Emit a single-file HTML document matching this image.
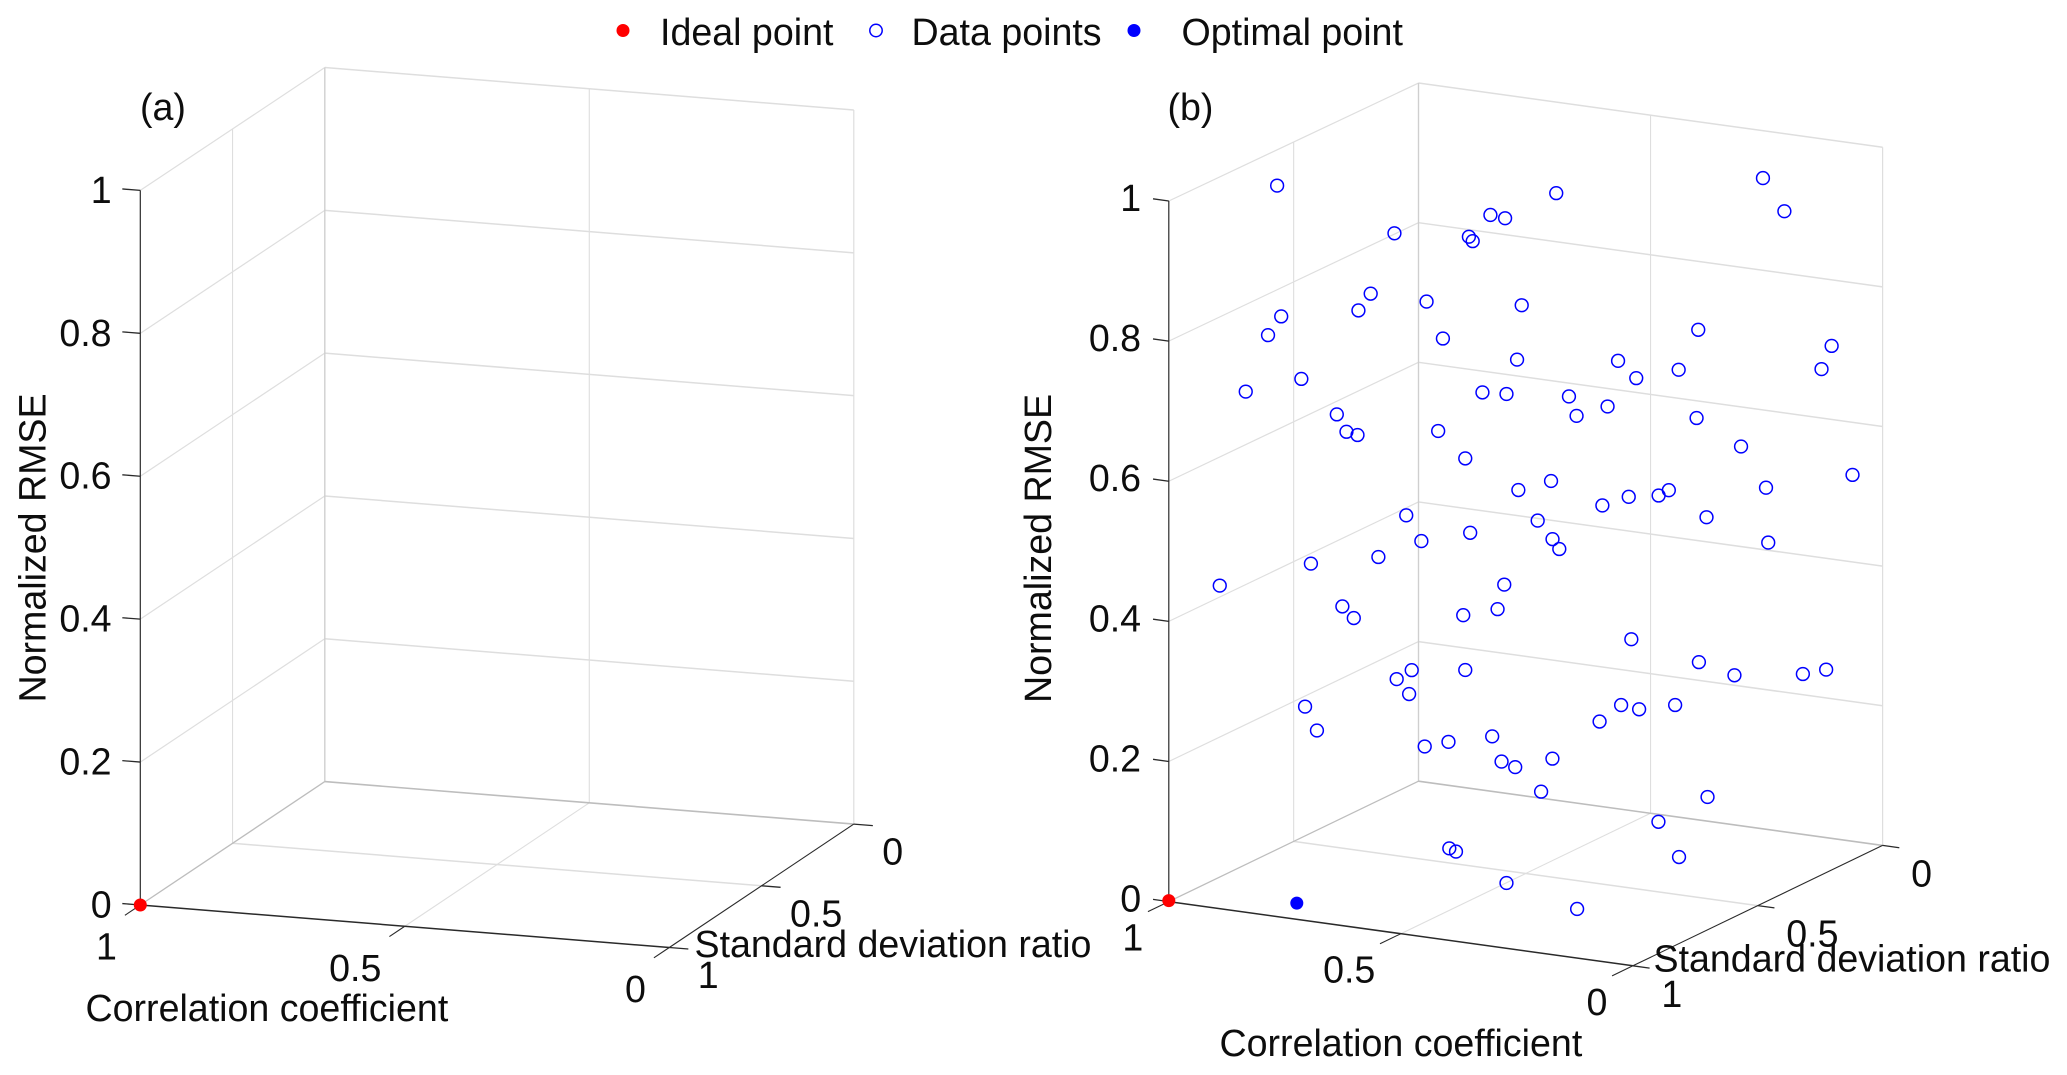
<!DOCTYPE html>
<html>
<head>
<meta charset="utf-8">
<title>3D scatter: normalized RMSE vs correlation and SD ratio</title>
<style>
html,body{margin:0;padding:0;background:#fff;}
svg{display:block;}
text{font-family:"Liberation Sans",Arial,sans-serif;font-size:37.6px;fill:#0d0d0d;}
</style>
</head>
<body>
<svg id="figure" xmlns="http://www.w3.org/2000/svg" width="2067" height="1075" viewBox="0 0 2067 1075">
  <rect x="0" y="0" width="2067" height="1075" fill="#fff"/>
  <g id="panel-a"></g>
  <g id="panel-b"></g>
  <g>
    <g>
      <circle cx="623" cy="30.5" r="6.5" fill="#f00"/>
      <text x="660" y="45">Ideal point</text>
    </g>
    <g>
      <circle cx="876" cy="30.5" r="6.2" fill="none" stroke="#00f" stroke-width="1.5"/>
      <text x="911.5" y="45">Data points</text>
    </g>
    <g>
      <circle cx="1134" cy="30.5" r="6.5" fill="#00f"/>
      <text x="1181.5" y="45">Optimal point</text>
    </g>
  </g>
</svg>
<script>
// Tick values and labels
const rmseTicks = [0, 0.2, 0.4, 0.6, 0.8, 1];
const rmseTickLabels = ["0", "0.2", "0.4", "0.6", "0.8", "1"];
const corrTicks = [1, 0.5, 0];
const corrTickLabels = ["1", "0.5", "0"];
const sdTicks = [0, 0.5, 1];
const sdTickLabels = ["0", "0.5", "1"];

// Reference points: [correlation, sd ratio, normalized RMSE]
const idealPoint = [1, 1, 0];
const optimalPoint = [0.778, 0.9, 0.001];

// Panel (b) data series
const corrValues = [
  .928,.488,.204,.104,.576,.652,.729,.461,.668,.834,
  .606,.670,.699,.973,.840,.786,.182,.056,.411,.301,
  .278,.024,.208,.822,.888,.647,.380,.622,.216,.907,
  .498,.078,.940,.701,.850,.036,.415,.011,.553,.462,
  .036,.353,.106,.278,.550,.218,.596,.528,.781,.671,
  .227,.085,.320,.909,.656,.944,.600,.453,.796,.895,
  .709,.380,.073,.104,.118,.014,.638,.778,.415,.805,
  .814,.178,.402,.148,.556,.896,.626,.505,.879,.552,
  .415,.550,.413,.162,.214,.557,.435,.062,.380,.174
];
const sdRatioValues = [
  .7,.4,.1,.2,.5,.3,.6,.8,.4,.5,
  .7,.2,.8,.6,.9,.3,.4,.1,.7,.5,
  .3,.2,.6,.8,.9,.4,.8,.1,.7,.5,
  .3,.6,.4,.8,.2,.5,.9,.1,.3,.6,
  .4,.2,.7,.5,.1,.3,.8,.4,.2,.6,
  .9,.3,.7,.6,.8,.9,.4,.7,.2,.5,
  .8,.3,.6,.4,.1,.2,.7,.5,.9,.4,
  .8,.5,.3,.7,.1,.6,.4,.8,.2,.5,
  .7,.3,.6,.4,.5,.7,.9,.7,.8,.9
];
const rmseValues = [
  .977,.955,.951,.930,.933,.887,.910,.964,.870,.797,
  .841,.744,.837,.769,.806,.703,.788,.725,.776,.750,
  .705,.712,.751,.728,.721,.656,.747,.601,.727,.618,
  .619,.706,.573,.659,.548,.652,.669,.545,.521,.568,
  .576,.509,.610,.558,.452,.500,.554,.484,.409,.476,
  .571,.476,.514,.422,.489,.439,.386,.416,.290,.345,
  .397,.311,.358,.302,.251,.284,.312,.252,.367,.211,
  .261,.270,.215,.301,.143,.185,.167,.239,.095,.155,
  .194,.125,.142,.123,.100,.065,.106,.098,.049,.048
];

const SVGNS = "http://www.w3.org/2000/svg";

function mk(tag, attrs, parent) {
  const el = document.createElementNS(SVGNS, tag);
  for (const k in attrs) el.setAttribute(k, attrs[k]);
  parent.appendChild(el);
  return el;
}

// Axis projection: correlation runs 1→0, sd ratio runs 1→0, RMSE runs 0→1
function makeAxes(geo) {
  return function project(c, s, z) {
    const u = 1 - c, v = 1 - s;
    return {
      x: geo.ox + u * geo.ux[0] + v * geo.uy[0],
      y: geo.oy + u * geo.ux[1] + v * geo.uy[1] - z * geo.uz
    };
  };
}

function seg(project, a, b, stroke, width, parent) {
  const p = project(a[0], a[1], a[2]);
  const q = project(b[0], b[1], b[2]);
  return mk("line", {x1: p.x, y1: p.y, x2: q.x, y2: q.y, stroke: stroke, "stroke-width": width}, parent);
}

function drawPanel(parent, geo) {
  const project = makeAxes(geo);
  const GRID = "#dedede", EDGE = "#bdbdbd", AXIS = "#2a2a2a";
  const k = geo.backWall;

  // Wall horizontal grid lines
  rmseTicks.forEach(function (z) {
    if (z === 0) return;
    const l1 = seg(project, [1, 1, z], [1, 0, z * k], GRID, 1.2, parent);
    
    
    const l2 = seg(project, [1, 0, z * k], [0, 0, z * k], GRID, 1.5, parent);
    
    
  });
  // Wall vertical grid lines
  const v1 = seg(project, [1, 0.5, 0], [1, 0.5, (1 + k) / 2], GRID, 1.1, parent);
  
  
  const v2 = seg(project, [0.5, 0, 0], [0.5, 0, k], GRID, 1.1, parent);
  
  
  const v3 = seg(project, [1, 0, 0], [1, 0, k], "#cfcfcf", 1.4, parent);
  
  
  const v4 = seg(project, [0, 0, 0], [0, 0, k], GRID, 1.2, parent);
  
  
  // Floor grid lines
  const f1 = seg(project, [1, 0.5, 0], [0, 0.5, 0], GRID, 1.5, parent);
  
  
  const f2 = seg(project, [0.5, 1, 0], [0.5, 0, 0], GRID, 1.1, parent);
  
  
  const f3 = seg(project, [1, 1, 0], [1, 0, 0], EDGE, 1.3, parent);
  
  
  const f4 = seg(project, [1, 0, 0], [0, 0, 0], EDGE, 1.6, parent);
  
  

  // Axis lines
  const az = seg(project, [1, 1, 0], [1, 1, 1], AXIS, 1.2, parent);
  
  
  const ac = seg(project, [1, 1, 0], [0, 1, 0], AXIS, 1.5, parent);
  
  
  const as = seg(project, [0, 1, 0], [0, 0, 0], AXIS, 1.1, parent);
  
  

  // RMSE ticks and labels
  rmseTicks.forEach(function (z, i) {
    const p = project(1, 1, z);
    const t = mk("line", {x1: p.x, y1: p.y, x2: p.x - 0.034 * geo.ux[0], y2: p.y - 0.034 * geo.ux[1], stroke: AXIS, "stroke-width": 1.3}, parent);
    
    
    const l = mk("text", {x: p.x + geo.zLabel[0], y: p.y + geo.zLabel[1], "text-anchor": "end"}, parent);
    l.textContent = rmseTickLabels[i];
    
    
  });
  // Correlation ticks and labels
  corrTicks.forEach(function (c, i) {
    const p = project(c, 1, 0);
    const t = mk("line", {x1: p.x, y1: p.y, x2: p.x - 0.0835 * geo.uy[0], y2: p.y - 0.0835 * geo.uy[1], stroke: AXIS, "stroke-width": 1.1}, parent);
    
    
    const l = mk("text", {x: p.x + geo.cLabel[0], y: p.y + geo.cLabel[1], "text-anchor": "end"}, parent);
    l.textContent = corrTickLabels[i];
    
    
  });
  // SD ratio ticks and labels
  sdTicks.forEach(function (s, i) {
    const p = project(0, s, 0);
    const t = mk("line", {x1: p.x, y1: p.y, x2: p.x + 0.036 * geo.ux[0], y2: p.y + 0.036 * geo.ux[1], stroke: AXIS, "stroke-width": 1.3}, parent);
    
    
    const l = mk("text", {x: p.x + geo.sLabel[0], y: p.y + geo.sLabel[1]}, parent);
    l.textContent = sdTickLabels[i];
    
    
  });

  // Axis titles and panel tag
  const tc = mk("text", {x: geo.corrTitle[0], y: geo.corrTitle[1]}, parent);
  tc.textContent = "Correlation coefficient";
  
  
  const ts = mk("text", {x: geo.sdTitle[0], y: geo.sdTitle[1]}, parent);
  ts.textContent = "Standard deviation ratio";
  
  
  const tz = mk("text", {transform: "translate(" + geo.zTitle[0] + "," + geo.zTitle[1] + ") rotate(-90)", style: "font-size:37.6px"}, parent);
  tz.textContent = "Normalized RMSE";
  
  
  const tag = mk("text", {x: geo.tag[0], y: geo.tag[1]}, parent);
  tag.textContent = geo.tagText;
  
  

  return project;
}

const projectA = drawPanel(document.getElementById("panel-a"), {
  ox: 140.3, oy: 905, ux: [529, 42.5], uy: [184.5, -123.4], uz: 714.6, backWall: 0.9993,
  zLabel: [-28.7, 12.5], cLabel: [-23.4, 54.6], sLabel: [28.5, 40.5],
  corrTitle: [85.5, 1021], sdTitle: [694.5, 957], zTitle: [45.5, 702.5],
  tag: [140, 120], tagText: "(a)"
});
const projectB = drawPanel(document.getElementById("panel-b"), {
  ox: 1168.8, oy: 901.6, ux: [464.1, 64.2], uy: [249.7, -120.4], uz: 700.6, backWall: 0.9965,
  zLabel: [-27.7, 10], cLabel: [-25.5, 49], sLabel: [28.5, 41],
  corrTitle: [1219.5, 1056], sdTitle: [1653.5, 971.5], zTitle: [1051, 703],
  tag: [1167.5, 120], tagText: "(b)"
});

// Panel (b) data points
const panelB = document.getElementById("panel-b");
corrValues.forEach(function (c, i) {
  const p = projectB(c, sdRatioValues[i], rmseValues[i]);
  const m = mk("circle", {cx: p.x, cy: p.y, r: 6.4, fill: "none", stroke: "#00f", "stroke-width": 1.5}, panelB);
  
  
});

// Optimal point (panel b)
const optP = projectB(optimalPoint[0], optimalPoint[1], optimalPoint[2]);
const optMark = mk("circle", {cx: optP.x, cy: optP.y, r: 6.5, fill: "#00f"}, panelB);



// Ideal points (both panels)
const idealA = projectA(idealPoint[0], idealPoint[1], idealPoint[2]);
const idealMarkA = mk("circle", {cx: idealA.x, cy: idealA.y, r: 6.5, fill: "#f00"}, document.getElementById("panel-a"));


const idealB = projectB(idealPoint[0], idealPoint[1], idealPoint[2]);
const idealMarkB = mk("circle", {cx: idealB.x, cy: idealB.y - 1, r: 6.5, fill: "#f00"}, panelB);


</script>
</body>
</html>
